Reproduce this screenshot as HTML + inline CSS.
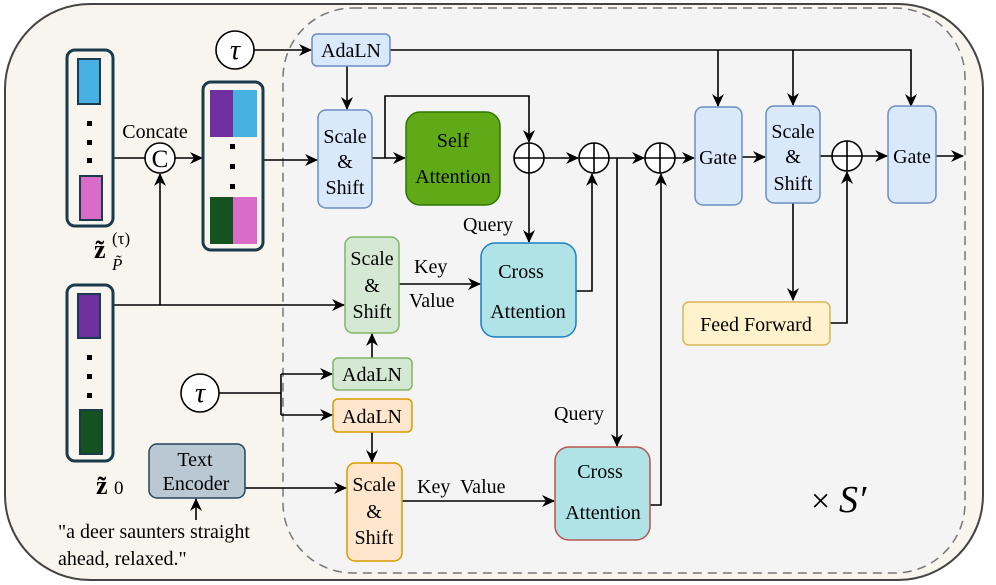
<!DOCTYPE html>
<html><head><meta charset="utf-8"><style>body{margin:0;background:#fff}svg{display:block}svg text{font-family:"Liberation Serif","Times New Roman",Times,"Tinos","DejaVu Serif",serif;fill:#000}</style></head><body>
<svg width="996" height="585" viewBox="0 0 996 585" xmlns="http://www.w3.org/2000/svg">
<defs><marker id="a" markerWidth="13" markerHeight="12" refX="12" refY="6" orient="auto" markerUnits="userSpaceOnUse"><path d="M0,0 L13,6 L0,12 L4,6 z" fill="#000"/></marker></defs>
<rect x="5" y="4" width="978" height="576" rx="85" fill="#f7f5ee" stroke="#444" stroke-width="2"/>
<rect x="283" y="8" width="682" height="565" rx="70" fill="#f4f4f4" stroke="#777" stroke-width="1.5" stroke-dasharray="9,6"/>
<g stroke="#000" stroke-width="1.6" fill="none">
<line x1="254" y1="50" x2="311" y2="50" marker-end="url(#a)"/>
<polyline points="390,50 911,50 911,106" marker-end="url(#a)"/>
<line x1="718" y1="50" x2="718" y2="106" marker-end="url(#a)"/>
<line x1="793" y1="50" x2="793" y2="105" marker-end="url(#a)"/>
<line x1="347" y1="66" x2="347" y2="109" marker-end="url(#a)"/>
<line x1="113" y1="158" x2="145" y2="158"/>
<line x1="175" y1="158" x2="202" y2="158" marker-end="url(#a)"/>
<line x1="263" y1="160" x2="317" y2="160" marker-end="url(#a)"/>
<line x1="372" y1="158" x2="405" y2="158" marker-end="url(#a)"/>
<polyline points="385,158 385,96 529,96 529,142" marker-end="url(#a)"/>
<line x1="544" y1="158" x2="578" y2="158" marker-end="url(#a)"/>
<line x1="609" y1="158" x2="644" y2="158" marker-end="url(#a)"/>
<line x1="675" y1="158" x2="694" y2="158" marker-end="url(#a)"/>
<line x1="742" y1="157" x2="765" y2="157" marker-end="url(#a)"/>
<line x1="820" y1="156" x2="832" y2="156"/>
<line x1="862" y1="156" x2="887" y2="156" marker-end="url(#a)"/>
<line x1="936" y1="156" x2="963" y2="156" marker-end="url(#a)"/>
<line x1="529" y1="173" x2="529" y2="242" marker-end="url(#a)"/>
<polyline points="576,291 592,291 592,174" marker-end="url(#a)"/>
<polyline points="617,158 617,446" marker-end="url(#a)"/>
<polyline points="650,505 661,505 661,174" marker-end="url(#a)"/>
<line x1="793" y1="203" x2="793" y2="300" marker-end="url(#a)"/>
<polyline points="830,323 847,323 847,172" marker-end="url(#a)"/>
<line x1="399" y1="284" x2="480" y2="284" marker-end="url(#a)"/>
<line x1="113" y1="305" x2="344" y2="305" marker-end="url(#a)"/>
<line x1="160" y1="305" x2="160" y2="174" marker-end="url(#a)"/>
<line x1="372" y1="358" x2="372" y2="334" marker-end="url(#a)"/>
<line x1="372" y1="432" x2="372" y2="462" marker-end="url(#a)"/>
<polyline points="219,393 281,393"/>
<polyline points="281,374 281,415"/>
<line x1="281" y1="374" x2="332" y2="374" marker-end="url(#a)"/>
<line x1="281" y1="415" x2="332" y2="415" marker-end="url(#a)"/>
<line x1="245" y1="488" x2="346" y2="488" marker-end="url(#a)"/>
<line x1="402" y1="501" x2="554" y2="501" marker-end="url(#a)"/>
<line x1="196" y1="520" x2="196" y2="499" marker-end="url(#a)"/>
</g>
<rect x="67" y="50" width="46" height="176" rx="8" fill="#f7f5ee" stroke="#1b3a4b" stroke-width="3"/>
<rect x="78" y="59" width="22" height="45" fill="#45b0e1" stroke="#1b3a4b" stroke-width="2"/>
<rect x="80" y="176" width="22" height="44" fill="#d86cc8" stroke="#1b3a4b" stroke-width="2"/>
<rect x="67" y="285" width="46" height="176" rx="8" fill="#f7f5ee" stroke="#1b3a4b" stroke-width="3"/>
<rect x="78" y="294" width="22" height="44" fill="#7030a0" stroke="#1b3a4b" stroke-width="2"/>
<rect x="80" y="410" width="22" height="44" fill="#145220" stroke="#1b3a4b" stroke-width="2"/>
<rect x="203" y="82" width="60" height="168" rx="8" fill="#f7f5ee" stroke="#1b3a4b" stroke-width="3"/>
<rect x="210" y="90" width="23" height="47" fill="#7030a0"/><rect x="233" y="90" width="24" height="47" fill="#45b0e1"/>
<rect x="210" y="197" width="23" height="47" fill="#145220"/><rect x="233" y="197" width="24" height="47" fill="#d86cc8"/>
<g fill="#000"><rect x="87" y="121" width="5" height="5"/><rect x="87" y="140" width="5" height="5"/><rect x="87" y="158" width="5" height="5"/>
<rect x="87" y="355" width="5" height="5"/><rect x="87" y="374" width="5" height="5"/><rect x="87" y="393" width="5" height="5"/>
<rect x="230" y="144" width="5" height="5"/><rect x="230" y="164" width="5" height="5"/><rect x="230" y="184" width="5" height="5"/></g>
<circle cx="160" cy="158" r="15" fill="#fff" stroke="#000" stroke-width="1.6"/>
<text x="160" y="167" font-size="25" text-anchor="middle">C</text>
<text x="155" y="138" font-size="20" text-anchor="middle">Concate</text>
<text x="94" y="258" font-size="26" font-weight="bold">z̃</text>
<text x="112" y="244" font-size="17">(τ)</text>
<text x="112" y="270" font-size="17" font-style="italic">P̃</text>
<text x="96" y="494" font-size="26" font-weight="bold">z̃</text>
<text x="114" y="494" font-size="19">0</text>
<circle cx="235" cy="50" r="19" fill="#fff" stroke="#000" stroke-width="1.6"/>
<text x="235" y="59" font-size="28" font-style="italic" text-anchor="middle">τ</text>
<circle cx="200" cy="393" r="19" fill="#fff" stroke="#000" stroke-width="1.6"/>
<text x="200" y="402" font-size="28" font-style="italic" text-anchor="middle">τ</text>
<g font-size="20" text-anchor="middle">
<rect x="312" y="34" width="78" height="32" rx="5" fill="#dae8fc" stroke="#6c8ebf" stroke-width="1.5"/><text x="351" y="57">AdaLN</text>
<rect x="318" y="110" width="54" height="98" rx="8" fill="#dae8fc" stroke="#6c8ebf" stroke-width="1.5"/><text x="345" y="143">Scale</text><text x="345" y="168">&amp;</text><text x="345" y="194">Shift</text>
<rect x="406" y="112" width="94" height="93" rx="14" fill="#60a917" stroke="#2d7600" stroke-width="1.5"/><text x="453" y="147">Self</text><text x="453" y="183">Attention</text>
<rect x="695" y="107" width="47" height="98" rx="8" fill="#dae8fc" stroke="#6c8ebf" stroke-width="1.5"/><text x="718" y="164">Gate</text>
<rect x="766" y="106" width="54" height="97" rx="8" fill="#dae8fc" stroke="#6c8ebf" stroke-width="1.5"/><text x="793" y="138">Scale</text><text x="793" y="163">&amp;</text><text x="793" y="190">Shift</text>
<rect x="888" y="106" width="48" height="97" rx="8" fill="#dae8fc" stroke="#6c8ebf" stroke-width="1.5"/><text x="912" y="163">Gate</text>
<rect x="481" y="243" width="95" height="94" rx="14" fill="#b0e3e6" stroke="#1a7ec3" stroke-width="1.5"/><text x="521" y="278">Cross</text><text x="528" y="318">Attention</text>
<rect x="683" y="302" width="147" height="43" rx="6" fill="#fff2cc" stroke="#d6b656" stroke-width="1.5"/><text x="756" y="331">Feed Forward</text>
<rect x="345" y="237" width="54" height="96" rx="8" fill="#d5e8d4" stroke="#82b366" stroke-width="1.5"/><text x="372" y="265">Scale</text><text x="372" y="292">&amp;</text><text x="372" y="318">Shift</text>
<rect x="333" y="358" width="79" height="32" rx="5" fill="#d5e8d4" stroke="#82b366" stroke-width="1.5"/><text x="372" y="381">AdaLN</text>
<rect x="333" y="399" width="79" height="33" rx="5" fill="#ffe6cc" stroke="#d79b00" stroke-width="1.5"/><text x="372" y="423">AdaLN</text>
<rect x="347" y="463" width="55" height="98" rx="8" fill="#ffe6cc" stroke="#d79b00" stroke-width="1.5"/><text x="374" y="491">Scale</text><text x="374" y="518">&amp;</text><text x="374" y="544">Shift</text>
<rect x="555" y="447" width="95" height="93" rx="14" fill="#b0e3e6" stroke="#b85450" stroke-width="1.5"/><text x="600" y="478">Cross</text><text x="603" y="519">Attention</text>
<rect x="149" y="444" width="96" height="54" rx="8" fill="#bac8d3" stroke="#23445d" stroke-width="1.5"/><text x="195" y="466">Text</text><text x="196" y="490">Encoder</text>
</g>
<g font-size="20">
<text x="463" y="231">Query</text>
<text x="414" y="273">Key</text>
<text x="409" y="307">Value</text>
<text x="554" y="420">Query</text>
<text x="417" y="493" xml:space="preserve">Key  Value</text>
<text x="58" y="538">"a deer saunters straight</text>
<text x="58" y="565">ahead, relaxed."</text>
<text x="811" y="512" font-size="34">×</text><text x="839" y="512" font-size="38" font-style="italic">S′</text>
</g>
<g stroke="#000" stroke-width="1.6" fill="#fff">
<circle cx="529" cy="158" r="15"/><circle cx="594" cy="158" r="15"/><circle cx="660" cy="158" r="15"/><circle cx="847" cy="156" r="15"/>
</g>
<g stroke="#000" stroke-width="1.6">
<path d="M514,158H544M529,143V173"/><path d="M579,158H609M594,143V173"/><path d="M645,158H675M660,143V173"/><path d="M832,156H862M847,141V171"/>
</g>
</svg>
</body></html>
